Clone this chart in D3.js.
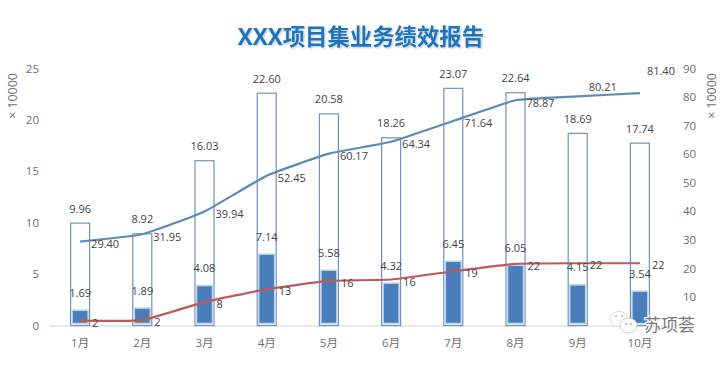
<!DOCTYPE html>
<html lang="zh">
<head>
<meta charset="utf-8">
<script src="https://cdn.jsdelivr.net/npm/d3@7/dist/d3.min.js"></script>
<style>
html,body{margin:0;padding:0;background:#fff;overflow:hidden}
svg{display:block}
text{font-family:"Open Sans","Noto Sans CJK SC","Noto Sans",sans-serif}
</style>
</head>
<body>
<svg id="c" width="720" height="365"></svg>
<script>
const months = ["1月","2月","3月","4月","5月","6月","7月","8月","9月","10月"];
const targetValues = [9.96,8.92,16.03,22.60,20.58,18.26,23.07,22.64,18.69,17.74];
const actualValues = [1.69,1.89,4.08,7.14,5.58,4.32,6.45,6.05,4.15,3.54];
const upperLine = [29.40,31.95,39.94,52.45,60.17,64.34,71.64,78.87,80.21,81.40];
const lowerLine = [1.69,1.89,8.2,12.7,15.6,16.1,19,21.6,21.8,21.8];
const leftTicks = [0,5,10,15,20,25];
const rightTicks = [10,20,30,40,50,60,70,80,90];
const titleText = "XXX项目集业务绩效报告";
const axisUnit = "× 10000";
const watermark = "苏项荟";

const svg = d3.select("#c");
const margin = {left:49,right:49,top:68.5,bottom:39.5};
const W = 720, H = 365;
const x = d3.scaleBand().domain(months).range([margin.left,W-margin.right]);
const yL = d3.scaleLinear().domain([0,25]).range([H-margin.bottom,margin.top]);
const yR = d3.scaleLinear().domain([0,90]).range([H-margin.bottom,margin.top]);
const cx = m => x(m)+x.bandwidth()/2;

const defs = svg.append("defs");
const sh = defs.append("filter").attr("id","ts").attr("x","-5%").attr("y","-20%").attr("width","110%").attr("height","140%");
sh.append("feDropShadow").attr("dx",1).attr("dy",1).attr("stdDeviation",0.8).attr("flood-color","#9db8d4").attr("flood-opacity",0.8);

svg.append("text").attr("x",361).attr("y",45).attr("text-anchor","middle")
  .attr("font-size",22.4).attr("font-weight",700).attr("fill","#1a75bb").attr("filter","url(#ts)").text(titleText);

// axes
const gL = svg.append("g").attr("transform",`translate(${margin.left},0)`)
  .call(d3.axisLeft(yL).tickValues(leftTicks).tickSize(0).tickPadding(10));
const gR = svg.append("g").attr("transform",`translate(${W-margin.right},0)`)
  .call(d3.axisRight(yR).tickValues(rightTicks).tickSize(0).tickPadding(12));
const gB = svg.append("g").attr("transform",`translate(0,${H-margin.bottom})`)
  .call(d3.axisBottom(x).tickSize(0).tickPadding(13));
[gL,gR,gB].forEach(g=>{
  g.selectAll("text").attr("fill","#6e6e6e").attr("font-size",11.5);
  g.select(".domain").attr("stroke","none");
});
gB.select(".domain").attr("stroke","#e8e8e8").attr("stroke-width",2);

svg.append("text").attr("transform","translate(16.5,96) rotate(-90)").attr("text-anchor","middle")
  .attr("font-size",12.4).attr("fill","#6e6e6e").text(axisUnit);
svg.append("text").attr("transform","translate(715.5,96) rotate(-90)").attr("text-anchor","middle")
  .attr("font-size",12.4).attr("fill","#6e6e6e").text(axisUnit);

// outer bars
const outerW = 19, innerW = 16;
svg.append("g").selectAll("rect").data(months).join("rect")
  .attr("x",m=>cx(m)-outerW/2).attr("width",outerW)
  .attr("y",(m,i)=>yL(targetValues[i]))
  .attr("height",(m,i)=>yL(0)-yL(targetValues[i]))
  .attr("fill","#fff").attr("stroke","#6f93bf").attr("stroke-width",1.2);
// inner bars
svg.append("g").selectAll("rect").data(months).join("rect")
  .attr("x",m=>cx(m)-innerW/2).attr("width",innerW)
  .attr("y",(m,i)=>yL(actualValues[i])+2)
  .attr("height",(m,i)=>yL(0)-yL(actualValues[i])-4)
  .attr("fill","#4a7ebb").attr("stroke","#c6d7ec").attr("stroke-width",1.5);

// lines
const line = d3.line().curve(d3.curveCardinal.tension(0.6));
svg.append("path").attr("d",line(months.map((m,i)=>[cx(m),yR(upperLine[i])])))
  .attr("fill","none").attr("stroke","#5b8abb").attr("stroke-width",2.2);
svg.append("path").attr("d",line(months.map((m,i)=>[cx(m),yR(lowerLine[i])])))
  .attr("fill","none").attr("stroke","#bd5a5c").attr("stroke-width",2.2);

// labels
const lab = {fill:"#444",size:11};
const addLabels = (vals,xf,yf,anchor,fmt) => svg.append("g").selectAll("text").data(vals).join("text")
  .attr("x",xf).attr("y",yf).attr("text-anchor",anchor).attr("dominant-baseline","central")
  .attr("font-size",lab.size).attr("fill",lab.fill).text(fmt);
const f2 = d3.format(".2f"), f0 = d3.format(".0f");
addLabels(targetValues,(d,i)=>cx(months[i]),(d)=>yL(d)-15,"middle",f2);
addLabels(actualValues,(d,i)=>cx(months[i]),(d)=>yL(d)-16,"middle",f2);
const upperDx = i => i===9 ? 7 : 11;
const upperDy = i => i===9 ? -23 : i===8 ? -10 : 2;
addLabels(upperLine,(d,i)=>cx(months[i])+upperDx(i),(d,i)=>yR(d)+upperDy(i),"start",f2);
addLabels(lowerLine,(d,i)=>cx(months[i])+12,(d)=>yR(d)+1.5,"start",f0);

// watermark
const wm = svg.append("g");
wm.append("ellipse").attr("cx",619).attr("cy",319).attr("rx",9).attr("ry",7.5).attr("fill","#fff").attr("stroke","#ddd");
wm.append("ellipse").attr("cx",628.5).attr("cy",325.5).attr("rx",8.5).attr("ry",7.5).attr("fill","#fff").attr("stroke","#ccc");
wm.selectAll("circle").data([[616,316],[622,316],[626,324],[631,324]]).join("circle")
  .attr("cx",d=>d[0]).attr("cy",d=>d[1]).attr("r",0.9).attr("fill","#aaa");
wm.append("text").attr("x",644).attr("y",331).attr("font-size",17).attr("fill","#7a7a7a")
  .attr("stroke","#fff").attr("stroke-width",2).attr("paint-order","stroke").text(watermark);
</script>
</body>
</html>
